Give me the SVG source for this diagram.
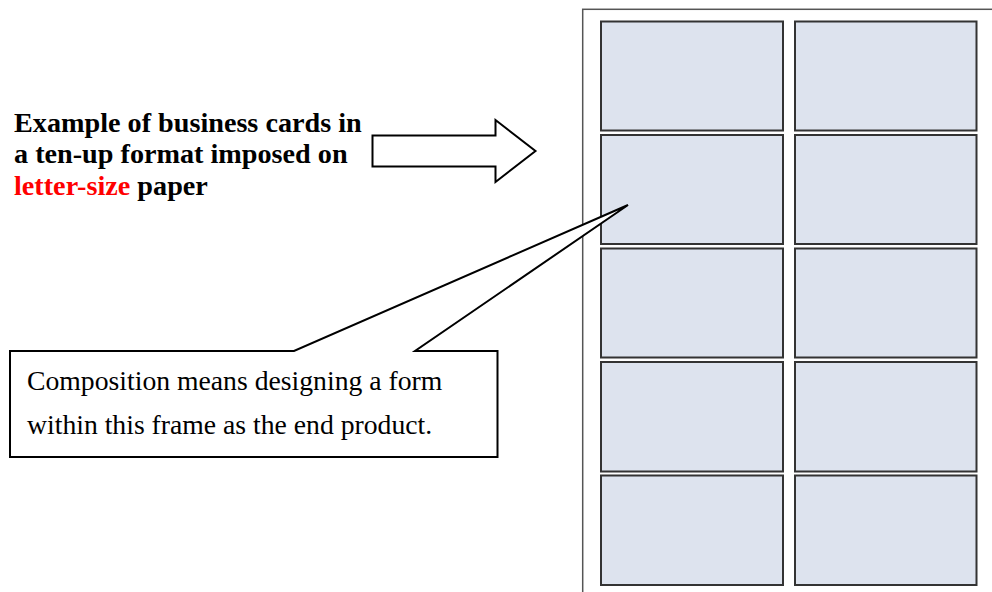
<svg xmlns="http://www.w3.org/2000/svg" width="992" height="592" viewBox="0 0 992 592">
<style>
.card{fill:#dde3ee;stroke:#333;stroke-width:2}
.title{font-family:"Liberation Serif","Times New Roman",serif;font-weight:bold;font-size:28.2px;fill:#000}
.note{font-family:"Liberation Serif","Times New Roman",serif;font-size:27.7px;fill:#000}
.outline{fill:#fff;stroke:#000;stroke-width:2;stroke-linejoin:miter}
</style>
<rect width="992" height="592" fill="#fff"/>
<g id="page">
<rect x="582.7" y="9.3" width="430" height="600" fill="#fff" stroke="#555" stroke-width="1.5"/>
</g>
<g id="cards">
<rect id="card1" class="card" x="601" y="21.5" width="182" height="109"/>
<rect id="card2" class="card" x="795" y="21.5" width="181.5" height="109"/>
<rect id="card3" class="card" x="601" y="135" width="182" height="109"/>
<rect id="card4" class="card" x="795" y="135" width="181.5" height="109"/>
<rect id="card5" class="card" x="601" y="248.5" width="182" height="109"/>
<rect id="card6" class="card" x="795" y="248.5" width="181.5" height="109"/>
<rect id="card7" class="card" x="601" y="362" width="182" height="109.5"/>
<rect id="card8" class="card" x="795" y="362" width="181.5" height="109.5"/>
<rect id="card9" class="card" x="601" y="475.5" width="182" height="109.5"/>
<rect id="card10" class="card" x="795" y="475.5" width="181.5" height="109.5"/>
</g>
<g id="title">
<text class="title" x="14" y="131.5">Example of business cards in</text>
<text class="title" x="14" y="163">a ten-up format imposed on</text>
<text class="title" x="14" y="194.5"><tspan fill="#ff0000">letter-size</tspan> paper</text>
</g>
<g id="connectors">
<polygon id="arrow" class="outline" points="372.5,135.5 495.5,135.5 495.5,120 535.5,151 495.5,182 495.5,166.5 372.5,166.5"/>
</g>
<g id="callout">
<path class="outline" d="M10,351 L294,351 L628,205 L415,351 L497.5,351 L497.5,457 L10,457 Z"/>
<text class="note" x="27" y="389.5">Composition means designing a form</text>
<text class="note" x="27" y="434">within this frame as the end product.</text>
</g>
</svg>
